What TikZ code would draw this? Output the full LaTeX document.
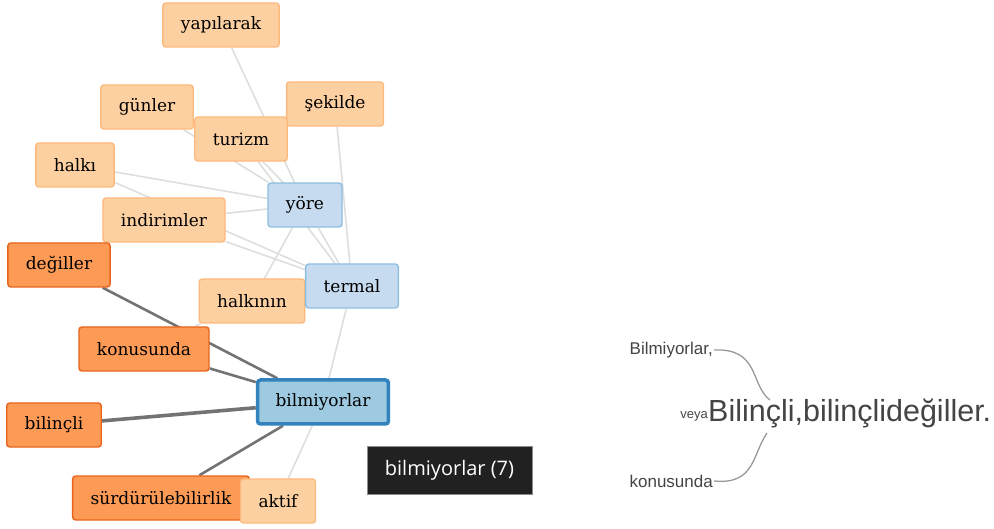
\documentclass[tikz,border=0pt]{standalone}
\usepackage{fontspec}
\setmainfont{DejaVu Serif}
\newfontfamily\treefont{Liberation Sans}
\newfontfamily\tipfont{Open Sans}
\usetikzlibrary{positioning, calc}

\definecolor{lightfill}{HTML}{FDD0A2}
\definecolor{lightline}{HTML}{FDB97D}
\definecolor{darkfill}{HTML}{FD9A55}
\definecolor{darkline}{HTML}{E8641C}
\definecolor{bluefill}{HTML}{C6DBEF}
\definecolor{blueline}{HTML}{8DBFE0}
\definecolor{selfill}{HTML}{9ECAE1}
\definecolor{selline}{HTML}{3182BD}
\definecolor{treegray}{HTML}{444444}

\pgfdeclarelayer{bg}
\pgfsetlayers{bg,main}

\begin{document}
\begin{tikzpicture}[x=1pt, y=-1pt,
    word/.style={draw=lightline, fill=lightfill, rounded corners=3pt, line width=1.4pt,
        minimum height=44pt, inner xsep=18pt, font=\fontsize{17}{17}\selectfont},
    strong/.style={word, draw=darkline, fill=darkfill},
    blue/.style={word, draw=blueline, fill=bluefill},
    picked/.style={word, draw=selline, fill=selfill, line width=3.5pt},
    faint/.style={draw=black!13, line width=1.6pt},
    heavy/.style={draw=black!55, line width=2.6pt}]
        \useasboundingbox (0,0) rectangle (994,529);

        % light nodes
        \node[word] (yapilarak) at (221,25) {yapılarak};
        \node[word] (gunler) at (147,107) {günler};
        \node[word] (sekilde) at (335,104) {şekilde};
        \node[word] (turizm) at (241,139) {turizm};
        \node[word] (halki) at (75,165) {halkı};
        \node[word] (indirimler) at (164,220) {indirimler};
        \node[word] (halkinin) at (252,301) {halkının};

        % blue nodes
        \node[blue] (yore) at (305,205) {yöre};
        \node[blue] (termal) at (352,286) {termal};
        \node[picked] (bilmiyorlar) at (323,402) {bilmiyorlar};

        % strong nodes
        \node[strong] (degiller) at (59,265) {değiller};
        \node[strong] (konusunda) at (144,349) {konusunda};
        \node[strong] (bilincli) at (54,425) {bilinçli};
        \node[strong] (surdurulebilirlik) at (161,498) {sürdürülebilirlik};
        \node[word] (aktif) at (278,501) {aktif};

        % links
        \begin{pgfonlayer}{bg}
            \foreach \n in {yapilarak, gunler, turizm, halki, indirimler, halkinin, termal}
                \draw[faint] (\n) -- (yore);
            \foreach \n in {sekilde, halki, indirimler, turizm}
                \draw[faint] (\n) -- (termal);
            \draw[faint] (termal) -- (bilmiyorlar);
            \draw[faint] (bilmiyorlar) -- (aktif);
            \draw[faint] (halkinin) -- (konusunda);
            \foreach \n in {degiller, konusunda, surdurulebilirlik}
                \draw[heavy] (\n) -- (bilmiyorlar);
            \draw[heavy, line width=3.6pt] (bilincli) -- (bilmiyorlar);
        \end{pgfonlayer}

        % tooltip
        \node[fill=black!87, draw=black!45, line width=0.6pt, text=white, minimum width=165pt,
            minimum height=48pt, font=\tipfont\fontsize{20}{20}\selectfont] (tip) at (449.5,470) {bilmiyorlar (7)};

        % word tree
        \node[anchor=west, inner sep=0pt, text=treegray, font=\treefont\fontsize{30.5}{30.5}\selectfont]
            (root) at (708,413) {Bilinçli,bilinçlideğiller.};
        \node[anchor=east, inner sep=0pt, text=treegray, font=\treefont\fontsize{13}{13}\selectfont]
            (veya) at ([yshift=-3pt]root.west) {veya};
        \node[anchor=east, inner sep=1pt, text=treegray, font=\treefont\fontsize{17}{17}\selectfont]
            (left1) at (714,350) {Bilmiyorlar,};
        \node[anchor=east, inner sep=1pt, text=treegray, font=\treefont\fontsize{17}{17}\selectfont]
            (left2) at (714,481) {konusunda};
        \coordinate (top) at (770,400);
        \coordinate (bot) at (767,433);
        \draw[black!40, line width=1.3pt] (left1.east) .. controls (760,348) and (750,385) .. (top);
        \draw[black!40, line width=1.3pt] (left2.east) .. controls (755,485) and (752,455) .. (bot);
    \end{tikzpicture}
\end{document}
